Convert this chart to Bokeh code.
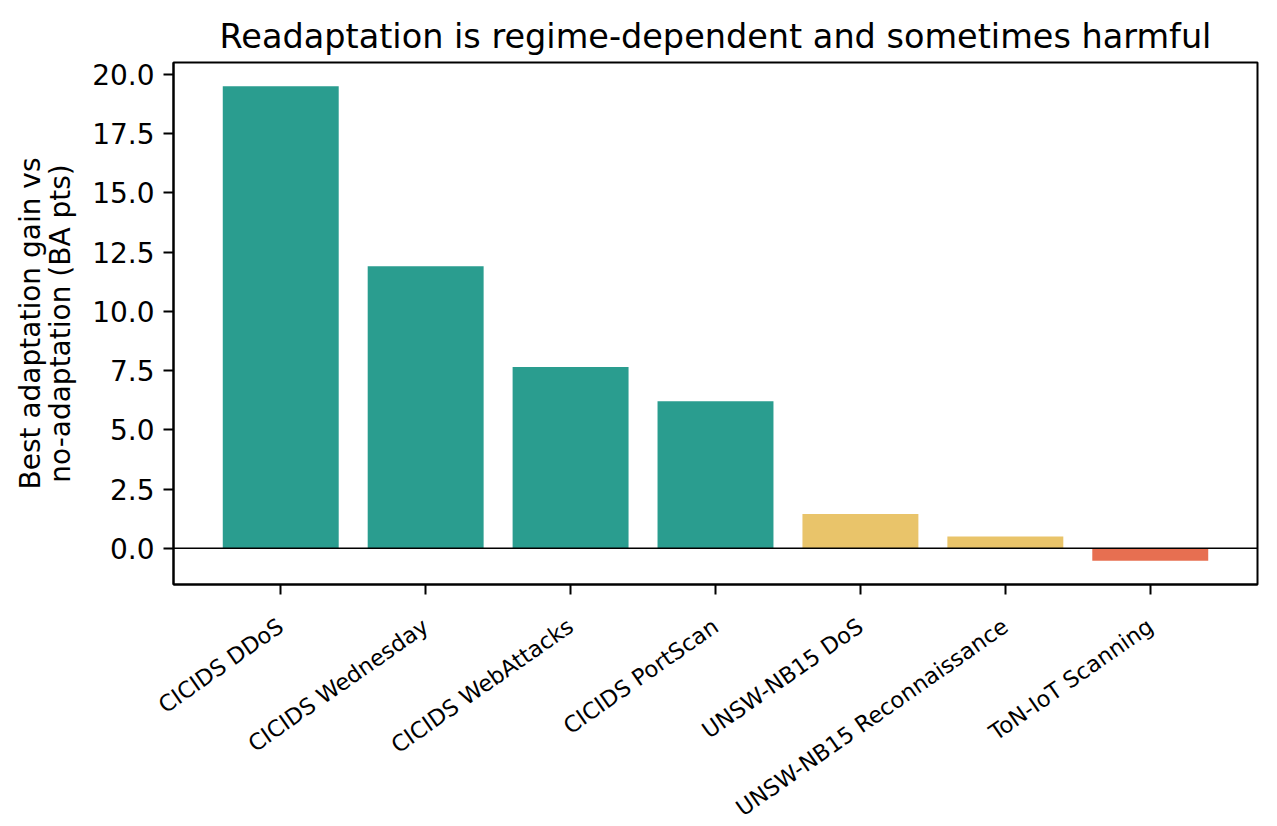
from bokeh.plotting import figure
from bokeh.models import Range1d, FixedTicker, PrintfTickFormatter, Span
from bokeh.embed import file_html
from bokeh.resources import INLINE
import math

categories = ["CICIDS DDoS", "CICIDS Wednesday", "CICIDS WebAttacks", "CICIDS PortScan",
              "UNSW-NB15 DoS", "UNSW-NB15 Reconnaissance", "ToN-IoT Scanning"]
gains = [19.5, 11.9, 7.65, 6.2, 1.45, 0.5, -0.53]
y_ticks = [0.0, 2.5, 5.0, 7.5, 10.0, 12.5, 15.0, 17.5, 20.0]

TEAL = "#2a9d8f"
SAND = "#e9c46a"
CORAL = "#e76f51"
def pick(v):
    if v >= 5:
        return TEAL
    if v >= 0:
        return SAND
    return CORAL
colors = [pick(v) for v in gains]
xs = list(range(len(categories)))

FONT = "DejaVu Sans"
p = figure(frame_width=1084, frame_height=522, output_backend="svg", toolbar_location=None,
           x_range=Range1d(-0.74, len(categories) - 0.26),
           y_range=Range1d(min(gains) - 1.0, max(gains) + 1.0),
           title="Readaptation is regime-dependent and sometimes harmful",
           min_border_left=173, min_border_right=20, min_border_top=62, min_border_bottom=230)
p.vbar(x=xs, top=gains, bottom=0, width=0.8, color=colors, line_color=None)
p.add_layout(Span(location=0, dimension="width", line_color="black", line_width=1.6))

p.grid.visible = False
p.outline_line_color = "black"
p.outline_line_width = 2
p.background_fill_color = "white"
p.border_fill_color = "white"

p.title.text_font = FONT
p.title.text_font_size = "33.5px"
p.title.text_font_style = "normal"
p.title.align = "center"
p.title.text_color = "black"
p.title.standoff = 14

xa = p.xaxis[0]
xa.ticker = FixedTicker(ticks=xs)
xa.major_label_overrides = {i: c for i, c in enumerate(categories)}
xa.major_label_orientation = math.radians(35)
xa.major_label_text_font = FONT
xa.major_label_text_font_size = "22.5px"
xa.major_label_text_color = "black"
xa.major_label_standoff = 29

ya = p.yaxis[0]
ya.ticker = FixedTicker(ticks=y_ticks)
ya.formatter = PrintfTickFormatter(format="%.1f")
ya.major_label_text_font = FONT
ya.major_label_text_font_size = "28px"
ya.major_label_text_color = "black"
ya.major_label_standoff = 9
ya.axis_label = "Best adaptation gain vs\nno-adaptation (BA pts)"
ya.axis_label_text_font = FONT
ya.axis_label_text_font_size = "28px"
ya.axis_label_text_font_style = "normal"
ya.axis_label_text_color = "black"
ya.axis_label_text_line_height = 0.9
ya.axis_label_standoff = 12

for ax in (xa, ya):
    ax.axis_line_color = "black"
    ax.axis_line_width = 2
    ax.major_tick_line_color = "black"
    ax.major_tick_line_width = 2
    ax.major_tick_out = 10
    ax.major_tick_in = 0
    ax.minor_tick_line_color = None

open("out.html", "w").write(file_html(p, INLINE))
